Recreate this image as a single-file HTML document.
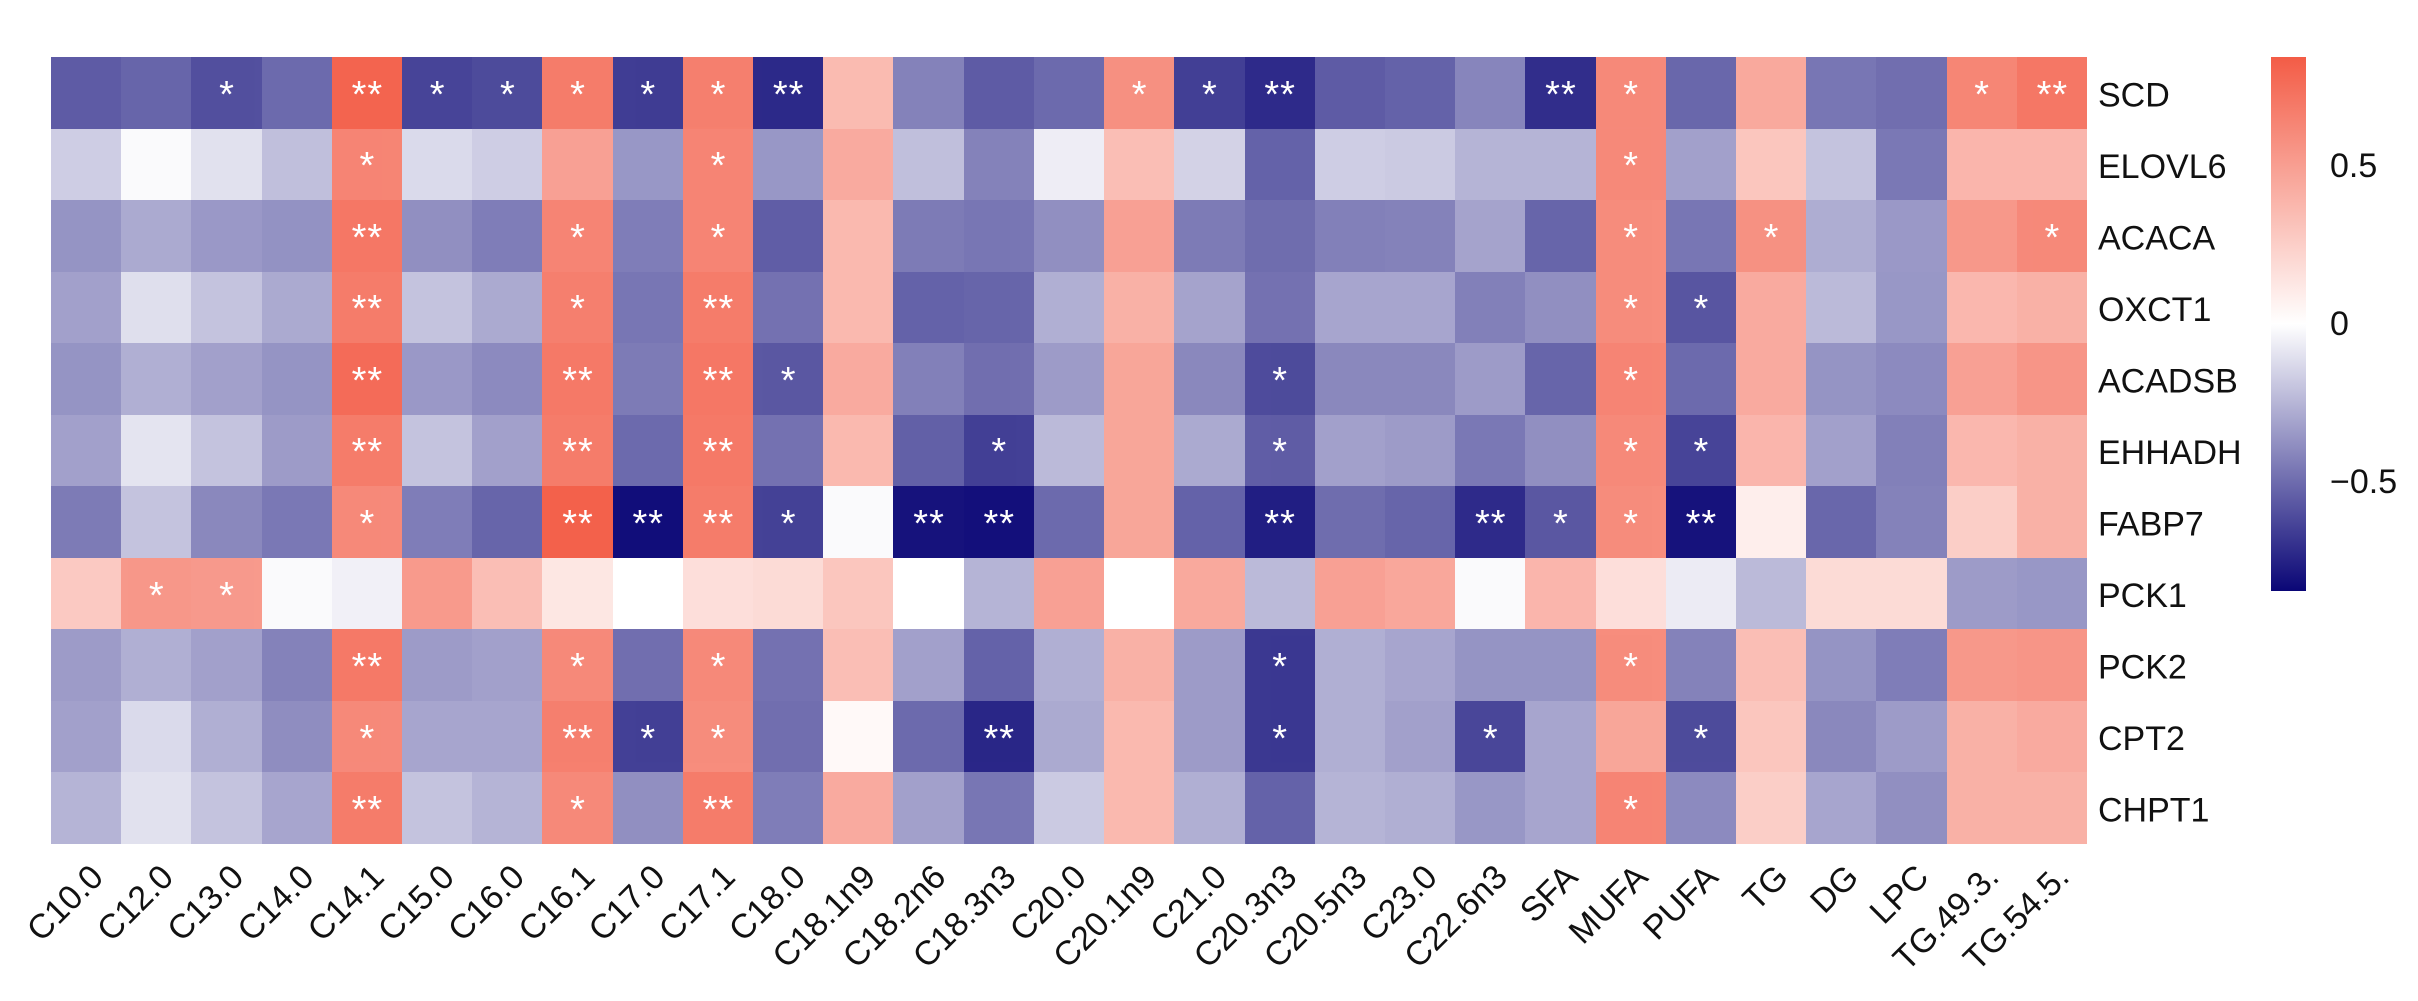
<!DOCTYPE html>
<html><head><meta charset="utf-8">
<style>
html,body{margin:0;padding:0;background:#fff;}
body{width:2418px;height:1001px;position:relative;overflow:hidden;font-family:"Liberation Sans",Arial,sans-serif;}
.g{position:absolute;left:51px;top:57px;width:2036px;height:787px;display:grid;grid-template-columns:repeat(29,1fr);grid-template-rows:repeat(11,1fr);}
.g i{display:block;position:relative;font-style:normal;}
.b{background:#0a0676;}
.r{background:#f35c46;}
.g span{position:absolute;left:0;right:0;top:50%;margin-top:-17px;line-height:38px;font-size:38px;color:#fff;text-align:center;letter-spacing:1px;text-indent:1px;}
.cb{position:absolute;left:2271px;top:57px;width:35px;height:534px;background:linear-gradient(to bottom,#f35c46 0%,#ffffff 50%,#0a0676 100%);}
svg{position:absolute;left:0;top:0;}
svg text{font-family:"Liberation Sans",Arial,sans-serif;font-size:34px;fill:#111;}
</style></head><body>
<div class="g">
<!-- SCD -->
<i class="b" style="opacity:.66"></i><i class="b" style="opacity:.62"></i><i class="b" style="opacity:.70"><span>*</span></i><i class="b" style="opacity:.60"></i><i class="r" style="opacity:.95"><span>**</span></i><i class="b" style="opacity:.75"><span>*</span></i><i class="b" style="opacity:.72"><span>*</span></i><i class="r" style="opacity:.80"><span>*</span></i><i class="b" style="opacity:.78"><span>*</span></i><i class="r" style="opacity:.78"><span>*</span></i><i class="b" style="opacity:.86"><span>**</span></i><i class="r" style="opacity:.42"></i><i class="b" style="opacity:.50"></i><i class="b" style="opacity:.66"></i><i class="b" style="opacity:.60"></i><i class="r" style="opacity:.68"><span>*</span></i><i class="b" style="opacity:.77"><span>*</span></i><i class="b" style="opacity:.85"><span>**</span></i><i class="b" style="opacity:.66"></i><i class="b" style="opacity:.63"></i><i class="b" style="opacity:.49"></i><i class="b" style="opacity:.84"><span>**</span></i><i class="r" style="opacity:.72"><span>*</span></i><i class="b" style="opacity:.61"></i><i class="r" style="opacity:.53"></i><i class="b" style="opacity:.55"></i><i class="b" style="opacity:.58"></i><i class="r" style="opacity:.74"><span>*</span></i><i class="r" style="opacity:.83"><span>**</span></i>
<!-- ELOVL6 -->
<i class="b" style="opacity:.20"></i><i class="b" style="opacity:.02"></i><i class="b" style="opacity:.12"></i><i class="b" style="opacity:.26"></i><i class="r" style="opacity:.75"><span>*</span></i><i class="b" style="opacity:.15"></i><i class="b" style="opacity:.20"></i><i class="r" style="opacity:.58"></i><i class="b" style="opacity:.42"></i><i class="r" style="opacity:.75"><span>*</span></i><i class="b" style="opacity:.42"></i><i class="r" style="opacity:.52"></i><i class="b" style="opacity:.26"></i><i class="b" style="opacity:.50"></i><i class="b" style="opacity:.07"></i><i class="r" style="opacity:.40"></i><i class="b" style="opacity:.18"></i><i class="b" style="opacity:.63"></i><i class="b" style="opacity:.20"></i><i class="b" style="opacity:.21"></i><i class="b" style="opacity:.30"></i><i class="b" style="opacity:.30"></i><i class="r" style="opacity:.72"><span>*</span></i><i class="b" style="opacity:.38"></i><i class="r" style="opacity:.35"></i><i class="b" style="opacity:.24"></i><i class="b" style="opacity:.54"></i><i class="r" style="opacity:.45"></i><i class="r" style="opacity:.45"></i>
<!-- ACACA -->
<i class="b" style="opacity:.43"></i><i class="b" style="opacity:.34"></i><i class="b" style="opacity:.41"></i><i class="b" style="opacity:.44"></i><i class="r" style="opacity:.83"><span>**</span></i><i class="b" style="opacity:.45"></i><i class="b" style="opacity:.52"></i><i class="r" style="opacity:.75"><span>*</span></i><i class="b" style="opacity:.52"></i><i class="r" style="opacity:.75"><span>*</span></i><i class="b" style="opacity:.65"></i><i class="r" style="opacity:.43"></i><i class="b" style="opacity:.53"></i><i class="b" style="opacity:.55"></i><i class="b" style="opacity:.45"></i><i class="r" style="opacity:.58"></i><i class="b" style="opacity:.53"></i><i class="b" style="opacity:.59"></i><i class="b" style="opacity:.51"></i><i class="b" style="opacity:.50"></i><i class="b" style="opacity:.37"></i><i class="b" style="opacity:.62"></i><i class="r" style="opacity:.70"><span>*</span></i><i class="b" style="opacity:.55"></i><i class="r" style="opacity:.67"><span>*</span></i><i class="b" style="opacity:.33"></i><i class="b" style="opacity:.41"></i><i class="r" style="opacity:.63"></i><i class="r" style="opacity:.72"><span>*</span></i>
<!-- OXCT1 -->
<i class="b" style="opacity:.38"></i><i class="b" style="opacity:.13"></i><i class="b" style="opacity:.24"></i><i class="b" style="opacity:.34"></i><i class="r" style="opacity:.80"><span>**</span></i><i class="b" style="opacity:.24"></i><i class="b" style="opacity:.34"></i><i class="r" style="opacity:.78"><span>*</span></i><i class="b" style="opacity:.55"></i><i class="r" style="opacity:.80"><span>**</span></i><i class="b" style="opacity:.57"></i><i class="r" style="opacity:.43"></i><i class="b" style="opacity:.63"></i><i class="b" style="opacity:.62"></i><i class="b" style="opacity:.32"></i><i class="r" style="opacity:.48"></i><i class="b" style="opacity:.37"></i><i class="b" style="opacity:.57"></i><i class="b" style="opacity:.36"></i><i class="b" style="opacity:.36"></i><i class="b" style="opacity:.51"></i><i class="b" style="opacity:.45"></i><i class="r" style="opacity:.70"><span>*</span></i><i class="b" style="opacity:.68"><span>*</span></i><i class="r" style="opacity:.52"></i><i class="b" style="opacity:.28"></i><i class="b" style="opacity:.42"></i><i class="r" style="opacity:.44"></i><i class="r" style="opacity:.48"></i>
<!-- ACADSB -->
<i class="b" style="opacity:.43"></i><i class="b" style="opacity:.32"></i><i class="b" style="opacity:.38"></i><i class="b" style="opacity:.43"></i><i class="r" style="opacity:.90"><span>**</span></i><i class="b" style="opacity:.41"></i><i class="b" style="opacity:.47"></i><i class="r" style="opacity:.82"><span>**</span></i><i class="b" style="opacity:.53"></i><i class="r" style="opacity:.83"><span>**</span></i><i class="b" style="opacity:.67"><span>*</span></i><i class="r" style="opacity:.52"></i><i class="b" style="opacity:.51"></i><i class="b" style="opacity:.58"></i><i class="b" style="opacity:.40"></i><i class="r" style="opacity:.55"></i><i class="b" style="opacity:.48"></i><i class="b" style="opacity:.72"><span>*</span></i><i class="b" style="opacity:.48"></i><i class="b" style="opacity:.48"></i><i class="b" style="opacity:.40"></i><i class="b" style="opacity:.62"></i><i class="r" style="opacity:.75"><span>*</span></i><i class="b" style="opacity:.60"></i><i class="r" style="opacity:.52"></i><i class="b" style="opacity:.43"></i><i class="b" style="opacity:.47"></i><i class="r" style="opacity:.58"></i><i class="r" style="opacity:.65"></i>
<!-- EHHADH -->
<i class="b" style="opacity:.38"></i><i class="b" style="opacity:.11"></i><i class="b" style="opacity:.24"></i><i class="b" style="opacity:.40"></i><i class="r" style="opacity:.80"><span>**</span></i><i class="b" style="opacity:.24"></i><i class="b" style="opacity:.38"></i><i class="r" style="opacity:.80"><span>**</span></i><i class="b" style="opacity:.60"></i><i class="r" style="opacity:.82"><span>**</span></i><i class="b" style="opacity:.57"></i><i class="r" style="opacity:.43"></i><i class="b" style="opacity:.64"></i><i class="b" style="opacity:.77"><span>*</span></i><i class="b" style="opacity:.28"></i><i class="r" style="opacity:.55"></i><i class="b" style="opacity:.34"></i><i class="b" style="opacity:.65"><span>*</span></i><i class="b" style="opacity:.38"></i><i class="b" style="opacity:.40"></i><i class="b" style="opacity:.54"></i><i class="b" style="opacity:.45"></i><i class="r" style="opacity:.72"><span>*</span></i><i class="b" style="opacity:.75"><span>*</span></i><i class="r" style="opacity:.45"></i><i class="b" style="opacity:.38"></i><i class="b" style="opacity:.51"></i><i class="r" style="opacity:.44"></i><i class="r" style="opacity:.48"></i>
<!-- FABP7 -->
<i class="b" style="opacity:.53"></i><i class="b" style="opacity:.24"></i><i class="b" style="opacity:.48"></i><i class="b" style="opacity:.54"></i><i class="r" style="opacity:.72"><span>*</span></i><i class="b" style="opacity:.52"></i><i class="b" style="opacity:.62"></i><i class="r" style="opacity:.97"><span>**</span></i><i class="b" style="opacity:.97"><span>**</span></i><i class="r" style="opacity:.80"><span>**</span></i><i class="b" style="opacity:.76"><span>*</span></i><i class="b" style="opacity:.02"></i><i class="b" style="opacity:.95"><span>**</span></i><i class="b" style="opacity:.96"><span>**</span></i><i class="b" style="opacity:.60"></i><i class="r" style="opacity:.55"></i><i class="b" style="opacity:.63"></i><i class="b" style="opacity:.90"><span>**</span></i><i class="b" style="opacity:.59"></i><i class="b" style="opacity:.62"></i><i class="b" style="opacity:.85"><span>**</span></i><i class="b" style="opacity:.67"><span>*</span></i><i class="r" style="opacity:.70"><span>*</span></i><i class="b" style="opacity:.95"><span>**</span></i><i class="r" style="opacity:.10"></i><i class="b" style="opacity:.61"></i><i class="b" style="opacity:.50"></i><i class="r" style="opacity:.30"></i><i class="r" style="opacity:.48"></i>
<!-- PCK1 -->
<i class="r" style="opacity:.33"></i><i class="r" style="opacity:.63"><span>*</span></i><i class="r" style="opacity:.62"><span>*</span></i><i class="b" style="opacity:.02"></i><i class="b" style="opacity:.06"></i><i class="r" style="opacity:.62"></i><i class="r" style="opacity:.40"></i><i class="r" style="opacity:.15"></i><i></i><i class="r" style="opacity:.20"></i><i class="r" style="opacity:.22"></i><i class="r" style="opacity:.35"></i><i></i><i class="b" style="opacity:.30"></i><i class="r" style="opacity:.58"></i><i></i><i class="r" style="opacity:.53"></i><i class="b" style="opacity:.28"></i><i class="r" style="opacity:.58"></i><i class="r" style="opacity:.54"></i><i class="b" style="opacity:.02"></i><i class="r" style="opacity:.45"></i><i class="r" style="opacity:.20"></i><i class="b" style="opacity:.08"></i><i class="b" style="opacity:.28"></i><i class="r" style="opacity:.22"></i><i class="r" style="opacity:.22"></i><i class="b" style="opacity:.40"></i><i class="b" style="opacity:.42"></i>
<!-- PCK2 -->
<i class="b" style="opacity:.40"></i><i class="b" style="opacity:.32"></i><i class="b" style="opacity:.38"></i><i class="b" style="opacity:.50"></i><i class="r" style="opacity:.82"><span>**</span></i><i class="b" style="opacity:.40"></i><i class="b" style="opacity:.38"></i><i class="r" style="opacity:.72"><span>*</span></i><i class="b" style="opacity:.58"></i><i class="r" style="opacity:.72"><span>*</span></i><i class="b" style="opacity:.57"></i><i class="r" style="opacity:.40"></i><i class="b" style="opacity:.38"></i><i class="b" style="opacity:.63"></i><i class="b" style="opacity:.32"></i><i class="r" style="opacity:.48"></i><i class="b" style="opacity:.40"></i><i class="b" style="opacity:.80"><span>*</span></i><i class="b" style="opacity:.32"></i><i class="b" style="opacity:.36"></i><i class="b" style="opacity:.43"></i><i class="b" style="opacity:.43"></i><i class="r" style="opacity:.70"><span>*</span></i><i class="b" style="opacity:.50"></i><i class="r" style="opacity:.40"></i><i class="b" style="opacity:.43"></i><i class="b" style="opacity:.52"></i><i class="r" style="opacity:.63"></i><i class="r" style="opacity:.65"></i>
<!-- CPT2 -->
<i class="b" style="opacity:.38"></i><i class="b" style="opacity:.15"></i><i class="b" style="opacity:.32"></i><i class="b" style="opacity:.46"></i><i class="r" style="opacity:.72"><span>*</span></i><i class="b" style="opacity:.36"></i><i class="b" style="opacity:.36"></i><i class="r" style="opacity:.78"><span>**</span></i><i class="b" style="opacity:.77"><span>*</span></i><i class="r" style="opacity:.70"><span>*</span></i><i class="b" style="opacity:.58"></i><i class="r" style="opacity:.04"></i><i class="b" style="opacity:.60"></i><i class="b" style="opacity:.87"><span>**</span></i><i class="b" style="opacity:.34"></i><i class="r" style="opacity:.43"></i><i class="b" style="opacity:.40"></i><i class="b" style="opacity:.80"><span>*</span></i><i class="b" style="opacity:.32"></i><i class="b" style="opacity:.38"></i><i class="b" style="opacity:.74"><span>*</span></i><i class="b" style="opacity:.36"></i><i class="r" style="opacity:.55"></i><i class="b" style="opacity:.72"><span>*</span></i><i class="r" style="opacity:.35"></i><i class="b" style="opacity:.48"></i><i class="b" style="opacity:.40"></i><i class="r" style="opacity:.48"></i><i class="r" style="opacity:.52"></i>
<!-- CHPT1 -->
<i class="b" style="opacity:.30"></i><i class="b" style="opacity:.12"></i><i class="b" style="opacity:.24"></i><i class="b" style="opacity:.36"></i><i class="r" style="opacity:.80"><span>**</span></i><i class="b" style="opacity:.24"></i><i class="b" style="opacity:.30"></i><i class="r" style="opacity:.72"><span>*</span></i><i class="b" style="opacity:.45"></i><i class="r" style="opacity:.80"><span>**</span></i><i class="b" style="opacity:.52"></i><i class="r" style="opacity:.52"></i><i class="b" style="opacity:.38"></i><i class="b" style="opacity:.55"></i><i class="b" style="opacity:.21"></i><i class="r" style="opacity:.43"></i><i class="b" style="opacity:.32"></i><i class="b" style="opacity:.63"></i><i class="b" style="opacity:.30"></i><i class="b" style="opacity:.32"></i><i class="b" style="opacity:.42"></i><i class="b" style="opacity:.36"></i><i class="r" style="opacity:.75"><span>*</span></i><i class="b" style="opacity:.47"></i><i class="r" style="opacity:.30"></i><i class="b" style="opacity:.36"></i><i class="b" style="opacity:.45"></i><i class="r" style="opacity:.48"></i><i class="r" style="opacity:.48"></i>
</div>
<div class="cb"></div>
<svg width="2418" height="1001" viewBox="0 0 2418 1001" xmlns="http://www.w3.org/2000/svg">
<g>
<text x="2098" y="106.5">SCD</text>
<text x="2098" y="178">ELOVL6</text>
<text x="2098" y="249.5">ACACA</text>
<text x="2098" y="321">OXCT1</text>
<text x="2098" y="392.5">ACADSB</text>
<text x="2098" y="464">EHHADH</text>
<text x="2098" y="535.5">FABP7</text>
<text x="2098" y="607">PCK1</text>
<text x="2098" y="678.5">PCK2</text>
<text x="2098" y="750">CPT2</text>
<text x="2098" y="821.5">CHPT1</text>
</g>
<g>
<text x="2330" y="177">0.5</text>
<text x="2330" y="335">0</text>
<text x="2330" y="493">−0.5</text>
</g>
<g text-anchor="end">
<text transform="translate(105.1,879) rotate(-45)">C10.0</text>
<text transform="translate(175.3,879) rotate(-45)">C12.0</text>
<text transform="translate(245.5,879) rotate(-45)">C13.0</text>
<text transform="translate(315.7,879) rotate(-45)">C14.0</text>
<text transform="translate(385.9,879) rotate(-45)">C14.1</text>
<text transform="translate(456.1,879) rotate(-45)">C15.0</text>
<text transform="translate(526.3,879) rotate(-45)">C16.0</text>
<text transform="translate(596.6,879) rotate(-45)">C16.1</text>
<text transform="translate(666.8,879) rotate(-45)">C17.0</text>
<text transform="translate(737.0,879) rotate(-45)">C17.1</text>
<text transform="translate(807.2,879) rotate(-45)">C18.0</text>
<text transform="translate(877.4,879) rotate(-45)">C18.1n9</text>
<text transform="translate(947.6,879) rotate(-45)">C18.2n6</text>
<text transform="translate(1017.8,879) rotate(-45)">C18.3n3</text>
<text transform="translate(1088.0,879) rotate(-45)">C20.0</text>
<text transform="translate(1158.2,879) rotate(-45)">C20.1n9</text>
<text transform="translate(1228.4,879) rotate(-45)">C21.0</text>
<text transform="translate(1298.6,879) rotate(-45)">C20.3n3</text>
<text transform="translate(1368.8,879) rotate(-45)">C20.5n3</text>
<text transform="translate(1439.0,879) rotate(-45)">C23.0</text>
<text transform="translate(1509.2,879) rotate(-45)">C22.6n3</text>
<text transform="translate(1579.5,879) rotate(-45)">SFA</text>
<text transform="translate(1649.7,879) rotate(-45)">MUFA</text>
<text transform="translate(1719.9,879) rotate(-45)">PUFA</text>
<text transform="translate(1790.1,879) rotate(-45)">TG</text>
<text transform="translate(1860.3,879) rotate(-45)">DG</text>
<text transform="translate(1930.5,879) rotate(-45)">LPC</text>
<text transform="translate(2000.7,879) rotate(-45)">TG.49.3.</text>
<text transform="translate(2070.9,879) rotate(-45)">TG.54.5.</text>
</g>
</svg>
</body></html>
